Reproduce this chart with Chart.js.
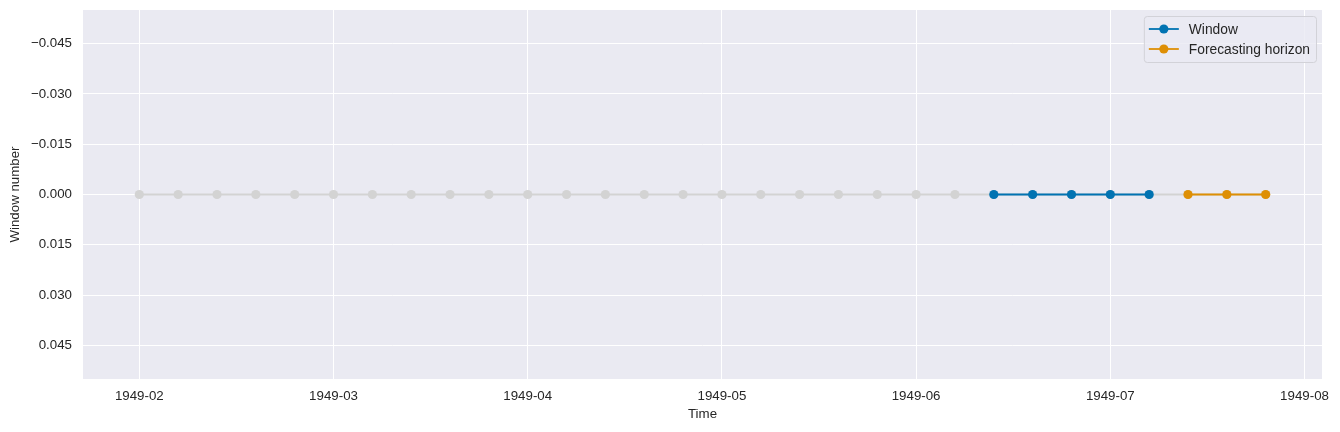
<!DOCTYPE html>
<html>
<head>
<meta charset="utf-8">
<script src="https://cdn.jsdelivr.net/npm/chart.js@4.4.1/dist/chart.umd.min.js"></script>
<style>
  html, body { margin: 0; padding: 0; background: #ffffff; }
  #wrap { width: 1340px; height: 432px; }
</style>
</head>
<body>
<div id="wrap"><canvas id="windowChart" width="1340" height="432"></canvas></div>
<script>
// time steps, as positions on the x axis
const steps = [0, 1, 2, 3, 4, 5, 6, 7, 8, 9, 10, 11, 12, 13, 14, 15, 16, 17, 18, 19, 20, 21, 22, 23, 24, 25, 26, 27, 28, 29];
const windowSteps = [22, 23, 24, 25, 26];
const horizonSteps = [27, 28, 29];

// every point sits on window number 0
const allWindowNo = [0, 0, 0, 0, 0, 0, 0, 0, 0, 0, 0, 0, 0, 0, 0, 0, 0, 0, 0, 0, 0, 0, 0, 0, 0, 0, 0, 0, 0, 0];
const windowNo = [0, 0, 0, 0, 0];
const horizonNo = [0, 0, 0];

const xTickPos = [0, 5, 10, 15, 20, 25, 30];
const xTickLabels = ["1949-02", "1949-03", "1949-04", "1949-05", "1949-06", "1949-07", "1949-08"];
const yTickPos = [-0.045, -0.03, -0.015, 0, 0.015, 0.03, 0.045];
const yTickLabels = ["\u22120.045", "\u22120.030", "\u22120.015", "0.000", "0.015", "0.030", "0.045"];

const TEXT = "#262626";
const FONT = "'Liberation Sans', Arial, sans-serif";
const GRAY = "#d3d3d3";
const BLUE = "#0173b2";
const ORANGE = "#de8f05";

function toPoints(xs, ys) {
  return xs.map((x, i) => ({ x: x, y: ys[i] }));
}

function series(label, xs, ys, color, order) {
  return {
    label: label,
    data: toPoints(xs, ys),
    borderColor: color,
    backgroundColor: color,
    pointBackgroundColor: color,
    pointBorderColor: color,
    pointRadius: 4.6,
    pointBorderWidth: 0,
    pointHoverRadius: 4.6,
    borderWidth: 1.8,
    tension: 0,
    fill: false,
    order: order,
  };
}

// grey plot background (seaborn darkgrid)
const plotBg = {
  id: "plotBg",
  beforeDraw(chart) {
    const { ctx, chartArea: a } = chart;
    ctx.save();
    ctx.fillStyle = "#eaeaf2";
    ctx.fillRect(a.left, a.top, a.right - a.left, a.bottom - a.top);
    ctx.restore();
  },
};

// legend drawn inside the plot, like matplotlib
const insideLegend = {
  id: "insideLegend",
  afterDraw(chart) {
    const ctx = chart.ctx;
    const area = chart.chartArea;
    const items = chart.data.datasets.filter((d) => d.showInLegend);
    ctx.save();
    ctx.font = "13.8px " + FONT;
    let textW = 0;
    items.forEach((d) => { textW = Math.max(textW, ctx.measureText(d.label).width); });
    const w = 45 + textW + 6;
    const h = 46;
    const x0 = area.right - 6 - w;
    const y0 = area.top + 6;
    ctx.beginPath();
    ctx.roundRect(x0 + 0.5, y0 + 0.5, w, h, 3);
    ctx.fillStyle = "rgba(234,234,242,0.8)";
    ctx.fill();
    ctx.strokeStyle = "#d2d2d8";
    ctx.lineWidth = 1;
    ctx.stroke();
    items.forEach((d, i) => {
      const cy = y0 + 13 + i * 20;
      ctx.strokeStyle = d.borderColor;
      ctx.lineWidth = 1.8;
      ctx.beginPath();
      ctx.moveTo(x0 + 5, cy);
      ctx.lineTo(x0 + 35, cy);
      ctx.stroke();
      ctx.fillStyle = d.borderColor;
      ctx.beginPath();
      ctx.arc(x0 + 20, cy, 4.6, 0, Math.PI * 2);
      ctx.fill();
      ctx.fillStyle = TEXT;
      ctx.textBaseline = "middle";
      ctx.textAlign = "left";
      ctx.fillText(d.label, x0 + 45, cy + 1);
    });
    ctx.restore();
  },
};

const trainSet = series("Train", steps, allWindowNo, GRAY, 3);
const windowSet = series("Window", windowSteps, windowNo, BLUE, 1);
const horizonSet = series("Forecasting horizon", horizonSteps, horizonNo, ORANGE, 2);
windowSet.showInLegend = true;
horizonSet.showInLegend = true;

new Chart(document.getElementById("windowChart"), {
  type: "line",
  data: { datasets: [trainSet, windowSet, horizonSet] },
  plugins: [plotBg, insideLegend],
  options: {
    responsive: false,
    animation: false,
    events: [],
    layout: { padding: { left: 0, right: 18, top: 10, bottom: 0 } },
    plugins: {
      legend: { display: false },
      tooltip: { enabled: false },
    },
    scales: {
      x: {
        type: "linear",
        min: -1.45,
        max: 30.45,
        afterFit: (scale) => {
          scale.height = 53;
          scale.paddingLeft = 0;
          scale.paddingRight = 0;
        },
        afterBuildTicks: (scale) => { scale.ticks = xTickPos.map((v) => ({ value: v })); },
        grid: { color: "#ffffff", lineWidth: 1, drawTicks: false },
        border: { display: false },
        ticks: {
          color: TEXT,
          font: { family: FONT, size: 13.3 },
          padding: 9,
          maxRotation: 0,
          autoSkip: false,
          callback: (v) => xTickLabels[xTickPos.indexOf(v)],
        },
        title: {
          display: true,
          text: "Time",
          color: TEXT,
          font: { family: FONT, size: 13.3 },
          padding: { top: 0, bottom: 10 },
        },
      },
      y: {
        type: "linear",
        reverse: true,
        min: -0.055,
        max: 0.055,
        afterFit: (scale) => {
          scale.width = 83;
          scale.paddingTop = 0;
          scale.paddingBottom = 0;
        },
        afterBuildTicks: (scale) => { scale.ticks = yTickPos.map((v) => ({ value: v })); },
        grid: { color: "#ffffff", lineWidth: 1, drawTicks: false },
        border: { display: false },
        ticks: {
          color: TEXT,
          font: { family: FONT, size: 13.3 },
          padding: 11,
          autoSkip: false,
          callback: (v) => yTickLabels[yTickPos.indexOf(v)],
        },
        title: {
          display: true,
          text: "Window number",
          color: TEXT,
          font: { family: FONT, size: 13.3 },
          padding: { top: 7, bottom: 0 },
        },
      },
    },
  },
});
</script>
</body>
</html>
